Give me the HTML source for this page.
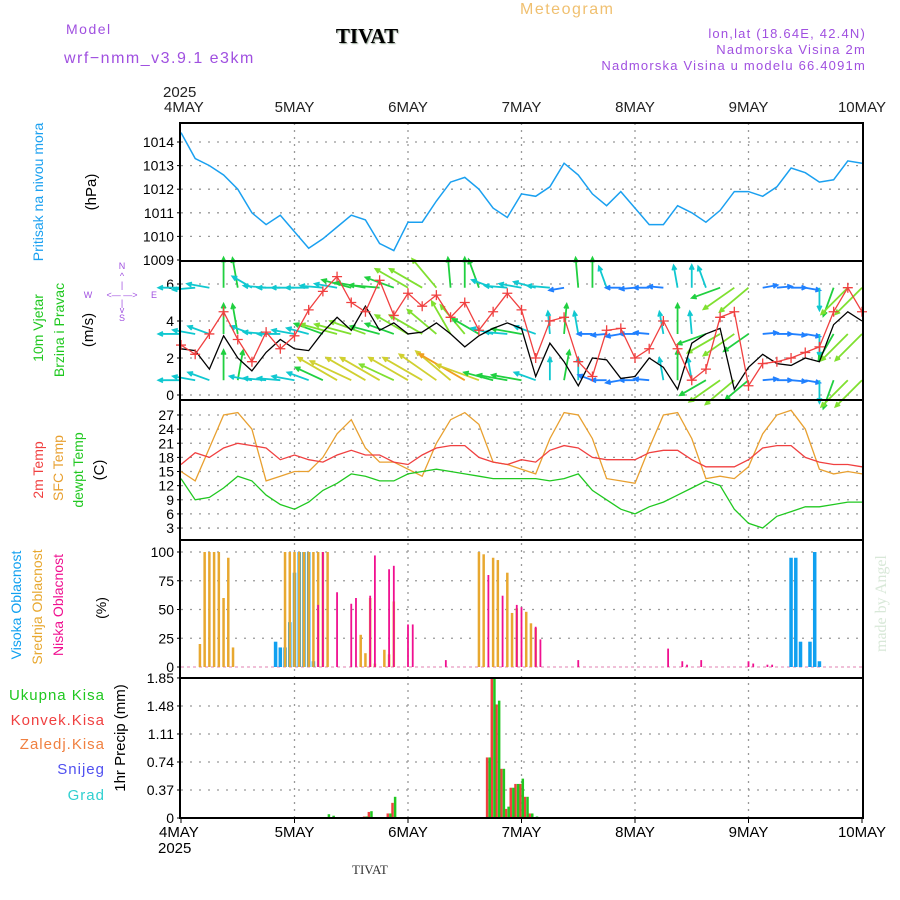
<!DOCTYPE html>
<html><head><meta charset="utf-8"><style>
body{margin:0;background:#fff;}
svg{display:block;font-family:"Liberation Sans",sans-serif;}
</style></head><body>
<svg id="c" width="900" height="900" viewBox="0 0 900 900">
<rect width="900" height="900" fill="#fff"/>
<text x="66" y="34" font-size="14" fill="#a050e0" letter-spacing="1.5">Model</text>
<text x="64" y="63" font-size="16" fill="#a050e0" letter-spacing="1.5">wrf−nmm_v3.9.1 e3km</text>
<text x="367" y="43" font-size="21" font-weight="bold" font-family="Liberation Serif,serif" text-anchor="middle" fill="#000" style="text-shadow:1px 1px 1px #9a9">TIVAT</text>
<text x="520" y="14" font-size="16" fill="#f0c070" letter-spacing="1.5">Meteogram</text>
<text x="866" y="38" font-size="13" fill="#a050e0" text-anchor="end" letter-spacing="1.2">lon,lat (18.64E, 42.4N)</text>
<text x="866" y="54" font-size="13" fill="#a050e0" text-anchor="end" letter-spacing="1.2">Nadmorska Visina 2m</text>
<text x="866" y="70" font-size="13" fill="#a050e0" text-anchor="end" letter-spacing="1.2">Nadmorska Visina u modelu 66.4091m</text>
<text x="352" y="874" font-size="13" font-family="Liberation Serif,serif" fill="#333">TIVAT</text>
<text transform="translate(886,652) rotate(-90)" font-size="16" font-family="Liberation Serif,serif" fill="#d8e8d8">made by Angel</text>
<g id="g"></g>
</svg>
<script>
// ---- data (3-hourly, hours 0..144 from 4 MAY 00z) ----
const dayLabels=["4MAY","5MAY","6MAY","7MAY","8MAY","9MAY","10MAY"];
const pressure=[1014.4,1013.3,1013.0,1012.6,1012.0,1011.0,1010.5,1010.9,
1010.2,1009.5,1009.9,1010.4,1010.9,1010.7,1009.7,1009.4,
1010.6,1010.6,1011.5,1012.3,1012.5,1012.0,1011.2,1010.8,
1011.8,1011.7,1012.1,1013.1,1012.6,1011.8,1011.3,1011.9,
1011.2,1010.5,1010.5,1011.3,1011.0,1010.6,1011.1,1011.9,
1011.9,1011.7,1012.1,1012.9,1012.7,1012.3,1012.4,1013.2,1013.1];
const windSpeed=[2.5,2.4,1.4,3.2,2.0,1.3,2.3,3.0,
2.5,2.4,3.4,4.2,3.5,4.8,3.5,3.9,
3.3,3.4,3.9,3.3,2.6,3.2,3.6,3.9,
3.6,1.0,2.8,1.8,0.5,2.0,1.9,0.9,
1.0,2.0,1.5,0.3,2.8,3.3,3.6,0.3,
1.5,2.2,1.7,1.6,2.0,1.8,3.8,4.5,4.0];
const windGust=[2.7,2.2,3.3,4.5,3.0,1.8,3.4,2.5,
3.2,4.6,5.6,6.4,5.0,4.5,6.2,4.3,
5.5,4.8,5.4,4.2,5.0,3.5,4.5,5.5,
4.6,2.0,4.0,4.2,1.8,1.0,3.5,3.6,
2.0,2.5,4.0,2.5,0.8,1.4,4.2,4.5,
0.5,1.7,1.8,2.0,2.3,2.6,4.5,5.8,4.5];
const dirTop=[180,185,170,90,100,150,175,180,180,180,175,170,165,170,175,160,150,150,130,95,90,110,160,175,170,165,175,190,95,90,110,180,185,180,175,100,90,110,200,215,220,10,5,0,350,270,250,225,225];
const spdTop=[3,3,3,4,4,3,3,3,3,3,3,3,4,4,4,4,5,5,5,4,4,4,3,3,3,3,3,2,4,4,3,2,2,2,2,3,3,3,4,5,5,2,2,2,2,3,4,5,5];
const dirMid=[180,170,160,90,100,160,175,180,170,165,160,165,165,160,165,160,150,150,140,120,130,150,165,175,170,160,95,85,100,180,185,190,180,175,100,90,95,200,210,215,215,5,0,355,350,270,240,225,225];
const spdMid=[3,3,3,4,4,3,3,3,3,3,4,5,5,5,4,4,5,5,5,5,5,4,3,3,4,3,3,4,3,2,2,2,2,2,3,4,3,4,5,5,4,2,2,2,2,3,4,5,5];
const dirBot=[180,170,160,90,80,170,175,175,170,160,155,150,155,150,150,155,150,150,145,140,150,160,165,170,170,160,90,80,90,160,180,190,180,175,100,90,100,210,215,220,220,5,0,355,350,270,250,225,225];
const spdBot=[3,3,3,4,4,3,3,3,3,3,4,6,6,6,6,5,6,6,6,6,7,6,4,4,4,3,3,4,3,2,2,2,2,2,3,4,3,4,5,5,4,2,2,2,2,3,4,5,5];
const temp2m=[16.5,19,18,20,21,20.5,20,17.5,18.5,17.5,17,18.5,19.5,18.5,18.5,17,16.5,18.5,20,20.5,20.5,18,17,16.5,17.5,17,19.5,20.5,20,18,17.5,17.5,17.5,19,19.5,19.5,17.5,16,16,16,17.5,20,20.5,20.5,18,17,16.5,16.5,16];
const tempSfc=[15,13,20,27,27.5,24,13,14,15,15,18,23,26,20,17,17,15.5,14,21,26,27.5,25,17,16.5,15.5,14.5,22,27.5,27,22,13.5,13,12.5,20,27,27.5,22,13.5,14,13.5,16,23,27,28,24,15.5,14.5,15,14.5];
const dewpt=[13.5,9,9.5,11.5,14,13,10,8,7,8.5,11,12.5,14.5,14,13,13,14.5,15,15.5,15,14.5,14,13.5,13.5,13.5,13.5,13,13.5,14.5,11,9,7,6,7.5,8.5,10,11.5,13,12,7,4,3,5.5,6.5,7.5,7.5,8,8.5,8.5];
const highHours=[20,21,22,23,24,25,26,27,28,129,130,131,133,134,135];
const highVals=[22,17,17,39,82,100,100,100,5,95,95,22,22,100,5];
const midHours=[4,5,6,7,8,9,10,11,22,23,24,25,26,27,28,29,30,31,38,39,40,41,43,44,45,63,64,66,67,69,70,71,73,74,75];
const midVals=[20,100,100,100,100,60,95,17,100,100,100,100,100,100,100,100,100,100,28,12,60,3,15,11,57,100,98,95,93,82,47,51,48,38,34];
const lowHours=[29,30,33,36,37,40,41,44,45,48,49,56,65,68,71,72,75,76,84,103,106,107,110,120,121,124,125];
const lowVals=[54,100,65,55,60,62,97,85,88,37,37,6,80,62,54,52,35,24,6,16,5,2,6,5,3,2,2];
const precipHours=[31,32,39,40,44,45,65,66,67,68,69,70,71,72,73,74,75];
const precipTotal=[0.05,0.03,0.02,0.09,0.06,0.28,0.8,1.85,1.55,0.65,0.15,0.4,0.45,0.52,0.28,0.06,0.02];
const precipConv=[0.0,0.0,0.02,0.08,0.06,0.2,0.8,1.85,1.5,0.65,0.12,0.4,0.45,0.45,0.28,0.06,0.01];

// ---- scales ----
const X0=181,PX_H=113.5/24;
const xs=h=>X0+h*PX_H;
const yP=v=>142+(1014-v)*23.6;
const yW=v=>395-v*18.5;
const yT=v=>415+(27-v)*4.71;
const yC=v=>667-v*1.15;
const yR=v=>818-v*75.7;
const g=document.getElementById('g');
const NS='http://www.w3.org/2000/svg';
function mk(tag,at,txt){const e=document.createElementNS(NS,tag);for(const k in at)e.setAttribute(k,at[k]);if(txt!==undefined)e.textContent=txt;g.appendChild(e);return e;}
function txt(x,y,s,opt){const e=mk('text',Object.assign({x:x,y:y,'font-size':14,fill:'#000'},opt||{}),s);return e;}

const panels=[[123,261],[261,400],[400,540],[540,678],[678,818]];
function hgrid(ys){ys.forEach(y=>{const l=mk('line',{x1:181,x2:862,y1:y,y2:y,stroke:'#999','stroke-dasharray':'2,7','stroke-width':1.3});

});}
hgrid([1014,1013,1012,1011,1010].map(yP));
hgrid([2,4,6].map(yW).concat([yW(0)]));
hgrid([3,6,9,12,15,18,21,24,27].map(yT));
hgrid([25,50,75,100].map(yC));
hgrid([0.37,0.74,1.11,1.48].map(yR));
for(let d=1;d<6;d++){const l=mk('line',{x1:xs(d*24),x2:xs(d*24),y1:123,y2:818,stroke:'#999','stroke-dasharray':'2,5','stroke-width':1.3});

}

function yticks(vals,f){vals.forEach(v=>{const t=txt(174,f(v)+5,String(v),{'text-anchor':'end','font-size':14});


const k=mk('line',{x1:177,x2:181,y1:f(v),y2:f(v),stroke:'#000'});

});}
yticks([1009,1010,1011,1012,1013,1014],yP);
yticks([0,2,4,6],yW);
yticks([3,6,9,12,15,18,21,24,27],yT);
yticks([0,25,50,75,100],yC);
yticks([0,0.37,0.74,1.11,1.48,1.85],yR);

dayLabels.forEach((s,i)=>{const x=xs(i*24);
const a=txt(x,112,s,{'text-anchor':i==0?'start':'middle','font-size':15,fill:'#222'});if(i==0)a.setAttribute('x',x-17);


const b=txt(x,837,s,{'text-anchor':i==0?'start':'middle','font-size':15,fill:'#000'});if(i==0)b.setAttribute('x',x-22);


const k=mk('line',{x1:x,x2:x,y1:818,y2:823,stroke:'#000'});

});
let yr=txt(163,97,'2025',{'font-size':15,fill:'#222'});


yr=txt(158,853,'2025',{'font-size':15});



function path(vals,f,col,w,name){const d=vals.map((v,i)=>(i?'L':'M')+xs(i*3).toFixed(1)+','+f(v).toFixed(1)).join('');
const p=mk('path',{d:d,fill:'none',stroke:col,'stroke-width':w||1.3});

return p;}

path(pressure,yP,'#1aa0f0',1.5,'pressure-line');

function colorFor(s){return ['#8020e0','#8020e0','#2080ff','#10c8d0','#20d040','#80e030','#d0d030','#f0a020'][Math.min(7,Math.max(0,Math.round(s)))];}
function arrows(dirs,spds,base,name){dirs.forEach((a,i)=>{const x=xs(i*3),y=yW(base),L=spds[i]*7.5,r=a*Math.PI/180;
const x2=x+L*Math.cos(r),y2=y-L*Math.sin(r);const c=colorFor(spds[i]);
const h1=r+Math.PI-0.45,h2=r+Math.PI+0.45;
const d=`M${x},${y}L${x2},${y2}M${x2+5*Math.cos(h1)},${y2-5*Math.sin(h1)}L${x2},${y2}L${x2+5*Math.cos(h2)},${y2-5*Math.sin(h2)}`;
const p=mk('path',{d:d,stroke:c,fill:'none','stroke-width':1.8});

});}
arrows(dirTop,spdTop,5.8,'wind-arrow-top');
arrows(dirMid,spdMid,3.3,'wind-arrow-mid');
arrows(dirBot,spdBot,0.8,'wind-arrow-bottom');
path(windSpeed,yW,'#000',1.3,'wind-speed-line');
path(windGust,yW,'#f04040',1.3,'wind-gust-line');
windGust.forEach((v,i)=>{const x=xs(i*3),y=yW(v);const p=mk('path',{d:`M${x-5},${y}H${x+5}M${x},${y-5}V${y+5}`,stroke:'#f04040','stroke-width':1.3});

});

path(tempSfc,yT,'#e8a030',1.3,'sfc-temp-line');
path(temp2m,yT,'#f04040',1.3,'temp-2m-line');
path(dewpt,yT,'#20c820',1.3,'dewpoint-line');

const zl=mk('line',{x1:181,x2:862,y1:yC(0),y2:yC(0),stroke:'#e080b0','stroke-dasharray':'3,3'});


function bars(hrs,vals,f,col,w,off,name){hrs.forEach((h,i)=>{const x=xs(h)+off,y=f(vals[i]);
const r=mk('rect',{x:x-w/2,y:y,width:w,height:f(0)-y,fill:col});

});}
bars(highHours,highVals,yC,'#10a0f0',3.5,0,'high-cloud-bar');
bars(midHours,midVals,yC,'#e8a830',2.5,0,'mid-cloud-bar');
bars(lowHours,lowVals,yC,'#f01090',1.8,0,'low-cloud-bar');

bars(precipHours,precipConv,yR,'#f04040',2.5,-1.3,'convective-precip-bar');
bars(precipHours,precipTotal,yR,'#20c820',2.5,1.3,'total-precip-bar');

panels.forEach((p,i)=>{const r=mk('rect',{x:180,y:p[0],width:683,height:p[1]-p[0],fill:'none',stroke:'#000','stroke-width':2});

});

function vlab(x,y,s,col,fs,name){const t=mk('text',{transform:`translate(${x},${y}) rotate(-90)`,'text-anchor':'middle','font-size':fs||14,fill:col},s);

}
vlab(43,192,'Pritisak na nivou mora','#1aa0f0',14,'pressure-title');
vlab(96,192,'(hPa)','#000',15,'pressure-unit');
vlab(43,328,'10m Vjetar','#20c820',14,'wind-title-1');
vlab(64,330,'Brzina i Pravac','#20c820',14,'wind-title-2');
vlab(93,330,'(m/s)','#000',15,'wind-unit');
vlab(43,470,'2m Temp','#f04040',14,'temp2m-legend');
vlab(63,468,'SFC Temp','#e8a030',14,'sfc-temp-legend');
vlab(83,470,'dewpt Temp','#20c820',14,'dewpt-legend');
vlab(104,470,'(C)','#000',15,'temp-unit');
vlab(21,605,'Visoka Oblacnost','#10a0f0',14,'high-cloud-legend');
vlab(42,607,'Srednja Oblacnost','#e8a830',14,'mid-cloud-legend');
vlab(63,605,'Niska Oblacnost','#f01090',14,'low-cloud-legend');
vlab(106,608,'(%)','#000',14,'cloud-unit');
vlab(125,738,'1hr Precip (mm)','#000',15,'precip-unit');
[['Ukupna  Kisa','#20c820',700],['Konvek.Kisa','#f04040',725],['Zaledj.Kisa','#f08040',749],['Snijeg','#5050f0',774],['Grad','#30d0d0',800]].forEach(a=>{
const t=txt(105,a[2],a[0],{'text-anchor':'end','font-size':15,fill:a[1],'letter-spacing':'1'});

});
const cp=mk('g',{fill:'#a050e0','font-size':9,'text-anchor':'middle'});


[['N',122,269],['^',122,279],['|',122,288],['<— —>',122,298],['|',122,306],['v',122,313],['S',122,321],['W',88,298],['E',154,298]].forEach(a=>{const t=document.createElementNS(NS,'text');t.setAttribute('x',a[1]);t.setAttribute('y',a[2]);t.textContent=a[0];cp.appendChild(t);});
</script>
</body></html>
